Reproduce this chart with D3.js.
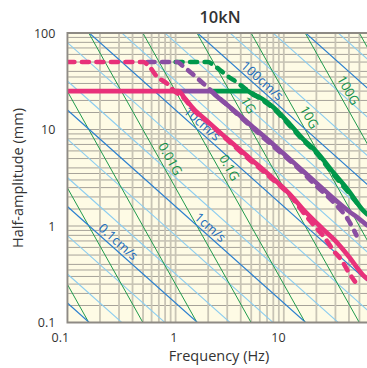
<!DOCTYPE html>
<html>
<head>
<meta charset="utf-8">
<script src="https://cdn.jsdelivr.net/npm/d3@7/dist/d3.min.js"></script>
<style>
  body { margin: 0; background: #fff; }
  text { font-family: "Open Sans", "Noto Sans", sans-serif; fill: #333; }
</style>
</head>
<body>
<div id="chart"></div>
<script>
// ---- data ----
var title = "10kN";
var freqTicks = [0.1, 1, 10];
var ampTicks = [0.1, 1, 10, 100];
var gridMultX = [1, 2, 3, 4, 5, 6, 7, 8, 9];
var gridMultY = [1, 1.5, 2, 2.5, 3, 3.5, 4, 5, 6, 7, 8, 9];

// constant velocity lines (cm/s) and constant acceleration lines (G)
var velMajor = [0.01, 0.1, 1, 10, 100, 1000];
var velMinor = [0.005, 0.02, 0.05, 0.2, 0.5, 2, 5, 20, 50, 200, 500, 2000];
var accLines = [1e-5, 1e-4, 1e-3, 0.01, 0.1, 1, 10, 100, 1000];
var velLabels = [["0.1cm/s", 0.1], ["1cm/s", 1], ["10cm/s", 10], ["100cm/s", 100]];
var accLabels = [["0.01G", 0.01], ["0.1G", 0.1], ["1G", 1], ["10G", 10], ["100G", 100]];

// performance curves: [frequency Hz, half-amplitude mm]
var pinkSolid = [[0.1,25],[1.06,25],[1.2,21.5],[1.46,16.5],[2,12],[3,8],[5,4.9],[8,3.1],[12,2.0],[15,1.5],[23,0.93],[30,0.7],[40,0.48],[54,0.31],[60,0.28]];
var pinkDashed = [[0.1,50],[0.5,50],[0.58,44],[0.67,35.5],[0.83,30],[0.95,25.6],[1.2,21],[1.46,16],[2,11.8],[3,7.8],[5,4.7],[8,3.0],[12,1.95],[15,1.4],[18.8,1.03],[24,0.75],[28.6,0.56],[34.3,0.44],[39.5,0.335],[45.5,0.265]];
var purpleSolid = [[1.0,25],[2.08,25],[2.3,23],[2.6,20.5],[3.4,16],[5,11],[8,7],[10,5.6],[14,4.0],[20,2.8],[28.6,1.95],[40,1.42],[50,1.18],[60,1.0]];
var purpleDashed = [[0.55,50],[1.05,50],[1.14,46.5],[1.5,36],[1.94,27.8],[2.2,24.5],[3.4,15.8],[5,10.7],[8,6.7],[10,5.4],[14,3.85],[20,2.6],[28.6,1.78],[39.5,1.15],[47,0.8]];
var greenSolid = [[2.1,25],[4.6,25],[5.2,23],[6,21.5],[8,17],[11.4,11.3],[15,8],[20,5.9],[28.6,3.6],[40,2.3],[54,1.45],[60,1.3]];
var greenDashed = [[1.0,50],[2.0,50],[2.23,46.6],[2.67,40],[3.1,35],[3.67,31],[4.3,27],[4.9,24.5],[6,21],[8,16.6],[11.4,10.9],[15,7.8],[20,5.7],[28.6,3.45],[40,2.2],[50,1.6]];

var G_MM = 9806.65; // 1G in mm/s^2
function dispVel(v, f) { return 10 * v / (2 * Math.PI * f); }
function dispAcc(a, f) { return a * G_MM / Math.pow(2 * Math.PI * f, 2); }

// ---- layout ----
var c_width = 367, c_height = 368;
var svg = d3.select("#chart").append("svg")
  .attr("width", c_width).attr("height", c_height);

var x = d3.scaleLog().domain([0.1, 60]).range([67.4, 368]);
var y = d3.scaleLog().domain([0.1, 100]).range([322.5, 33]);
var x0 = x.range()[0], x1 = x.range()[1], y0 = y.range()[1], y1 = y.range()[0];

svg.append("defs").append("clipPath").attr("id", "plot-clip")
  .append("rect").attr("x", x0).attr("y", y0).attr("width", x1 - x0).attr("height", y1 - y0);

svg.append("rect")
  .attr("x", x0).attr("y", y0).attr("width", x1 - x0).attr("height", y1 - y0)
  .style("fill", "#fefbe5");

var plot = svg.append("g").attr("clip-path", "url(#plot-clip)");

// grid
var gx = [], gy = [];
freqTicks.forEach(function(d) { gridMultX.forEach(function(m) { if (d * m <= 60) gx.push(d * m); }); });
[0.1, 1, 10].forEach(function(d) { gridMultY.forEach(function(m) { gy.push(d * m); }); });

plot.selectAll(".grid-y").data(gy).enter().append("line")
  .attr("class", "grid-y")
  .attr("x1", x0).attr("x2", x1)
  .attr("y1", function(d) { return y(d); }).attr("y2", function(d) { return y(d); })
  .style("stroke", "#a6a299").style("stroke-width", 1);

plot.selectAll(".grid-x").data(gx).enter().append("line")
  .attr("class", "grid-x")
  .attr("x1", function(d) { return x(d); }).attr("x2", function(d) { return x(d); })
  .attr("y1", y0).attr("y2", y1)
  .style("stroke", "#c8c4b5").style("stroke-width", 1.8);

// diagonal reference lines
var line = d3.line().x(function(d) { return x(d[0]); }).y(function(d) { return y(d[1]); });
var fEnds = [0.1, 60];

function diag(values, fn, color, width) {
  plot.selectAll(null).data(values).enter().append("path")
    .attr("d", function(v) { return line(fEnds.map(function(f) { return [f, fn(v, f)]; })); })
    .style("fill", "none").style("stroke", color).style("stroke-width", width);
}
diag(velMinor, dispVel, "#8ccdf0", 1.1);
diag(accLines, dispAcc, "#1f9a4c", 1);
diag(velMajor, dispVel, "#2a7fcf", 1.2);

// labels on the reference lines, placed at a frequency along each line
var velLabelF = [0.265, 1.877, 1.584, 5.68];
var accLabelF = [0.748, 2.63, 3.94, 14.4, 33.0];

function lineLabels(labels, freqs, fn, color, dy) {
  labels.forEach(function(l, i) {
    var f = freqs[i];
    var px = x(f), py = y(fn(l[1], f));
    var qx = x(f * 1.1), qy = y(fn(l[1], f * 1.1));
    var ang = Math.atan2(qy - py, qx - px) * 180 / Math.PI;
    plot.append("text")
      .attr("transform", "translate(" + px + "," + py + ") rotate(" + ang + ")")
      .attr("text-anchor", "middle")
      .attr("dy", dy)
      .style("font-size", "13px")
      .style("fill", color)
      .text(l[0]);
  });
}
lineLabels(velLabels, velLabelF, dispVel, "#1a6cbd", -3);
lineLabels(accLabels, accLabelF, dispAcc, "#14924a", -5);

// performance curves
var curve = d3.line().curve(d3.curveMonotoneX)
  .x(function(d) { return x(d[0]); }).y(function(d) { return y(d[1]); });

var series = [
  { data: greenSolid, color: "#00984a", dash: null },
  { data: purpleSolid, color: "#8a4ea3", dash: null },
  { data: pinkSolid, color: "#e8317a", dash: null },
  { data: greenDashed, color: "#00984a", dash: "7,7.5" },
  { data: purpleDashed, color: "#8a4ea3", dash: "7,7.5" },
  { data: pinkDashed, color: "#e8317a", dash: "7,7.5" }
];

plot.selectAll(".curve").data(series).enter().append("path")
  .attr("class", "curve")
  .attr("d", function(s) { return curve(s.data); })
  .style("fill", "none")
  .style("stroke", function(s) { return s.color; })
  .style("stroke-width", 4.6)
  .style("stroke-linecap", function(s) { return s.dash ? "round" : "butt"; })
  .style("stroke-linejoin", "round")
  .style("stroke-dasharray", function(s) { return s.dash; });

// frame
svg.append("path")
  .attr("d", "M" + x1 + "," + y0 + "H" + x0 + "V" + y1 + "H" + x1)
  .style("fill", "none").style("stroke", "#8e8a84").style("stroke-width", 1.8);

// axes
var fmt = function(d) { return d < 1 ? "0.1" : String(d); };
var xAxis = svg.append("g")
  .attr("transform", "translate(0," + y1 + ")")
  .call(d3.axisBottom(x).tickValues(freqTicks).tickFormat(fmt).tickSize(0).tickPadding(11));
xAxis.select(".domain").remove();
xAxis.selectAll("text")
  .attr("text-anchor", "end").attr("dx", "0.1em")
  .style("font-size", "12.5px").style("fill", "#333").style("font-family", null);

var yAxis = svg.append("g")
  .attr("transform", "translate(" + x0 + ",0)")
  .call(d3.axisLeft(y).tickValues(ampTicks).tickFormat(fmt).tickSize(0).tickPadding(12));
yAxis.select(".domain").remove();
yAxis.selectAll("text")
  .style("font-size", "12.5px").style("fill", "#333").style("font-family", null);

// titles
svg.append("text")
  .attr("x", 220).attr("y", 23)
  .attr("text-anchor", "middle")
  .style("font-size", "16.5px")
  .style("font-weight", 600)
  .text(title);

svg.append("text")
  .attr("x", 219).attr("y", 361)
  .attr("text-anchor", "middle")
  .style("font-size", "14.5px")
  .text("Frequency (Hz)");

svg.append("text")
  .attr("transform", "translate(23,178) rotate(-90)")
  .attr("text-anchor", "middle")
  .style("font-size", "14.5px")
  .text("Half-amplitude (mm)");
</script>
</body>
</html>
